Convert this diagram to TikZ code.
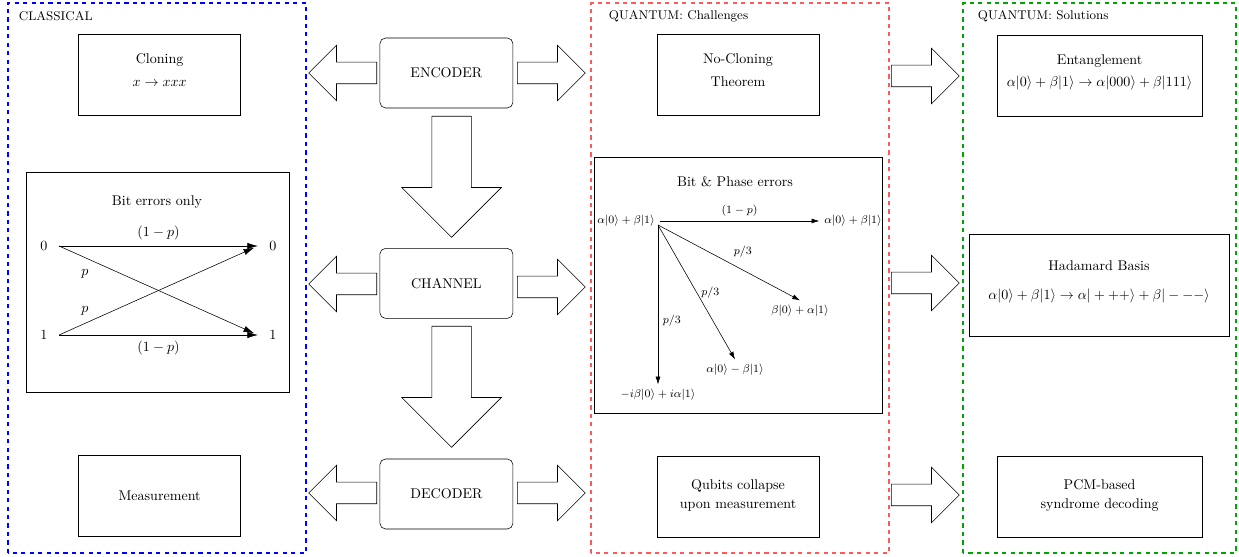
\documentclass[tikz,border=0pt]{standalone}
\usepackage{tikz}
\usepackage{xcolor}
\usetikzlibrary{arrows,arrows.meta,shapes,shapes.arrows,positioning}
\colorlet{framecolor1}{blue}
\colorlet{framecolor2}{red!65}
\colorlet{framecolor3}{green!65!black}

\begin{document}
\begin{tikzpicture}[
    frame/.style={dashed, line width=0.8pt},
    infobox/.style={draw, align=center, minimum width=4.05cm, minimum height=2.025cm},
    twoline/.style={execute at end node={\rule[-#1]{0pt}{0pt}}},
    twoline/.default=7pt,
    stagebox/.style={draw, rounded corners=4pt, minimum width=3.325cm, minimum height=1.75cm},
    sidearrow/.style={draw, single arrow, anchor=tail, single arrow head extend=0.425cm, minimum width=1.375cm, minimum height=1.7cm, inner xsep=0pt, inner ysep=0.2625cm},
    downarrow/.style={draw, single arrow, anchor=tail, shape border rotate=270, single arrow head extend=0.75cm, minimum width=2.475cm, minimum height=3.025cm, inner xsep=0.4875cm, inner ysep=0pt},
    bitlabel/.style={inner xsep=8pt},
    bigtip/.style={-{Latex[length=7.5pt, width=4.5pt]}},
    smalltip/.style={-{Latex[length=5.5pt, width=3.5pt]}},
    prob/.style={font=\footnotesize}
  ]
  % Fix the size of the page
  \useasboundingbox (0,0) rectangle (30.975,13.925);

  % Dashed group frames
  \draw[frame, framecolor1] (0.2,0.1) rectangle (7.65,13.85);
  \draw[frame, framecolor2] (14.775,0.1) rectangle (22.225,13.85);
  \draw[frame, framecolor3] (24.075,0.1) rectangle (30.9,13.85);

  % Frame titles
  \node[anchor=west, font=\small] (classtitle) at (0.35,13.525) {CLASSICAL};
  \node[anchor=west, font=\small] (challtitle) at (15.1,13.525) {QUANTUM: Challenges};
  \node[anchor=west, font=\small] (soltitle) at (24.325,13.525) {QUANTUM: Solutions};

  % Classical column
  \node[infobox, twoline] (cloning) at (3.99,12.05) {Cloning\\[5pt] $x \rightarrow xxx$};
  \node[draw, minimum width=6.575cm, minimum height=5.5cm] (biterr) at (3.94,6.875) {};
  \node (biterrtitle) at (3.925,8.875) {Bit errors only};
  \node[infobox] (measure) at (3.99,1.525) {Measurement};

  % Binary symmetric channel
  \node[bitlabel] (in0) at (1.1,7.775) {0};
  \node[bitlabel] (in1) at (1.1,5.55) {1};
  \node[bitlabel] (out0) at (6.825,7.775) {0};
  \node[bitlabel] (out1) at (6.825,5.55) {1};
  \draw[bigtip] (in0.east) -- node[above=1pt] {$(1-p)$} (out0.west);
  \draw[bigtip] (in1.east) -- node[below=1pt] {$(1-p)$} (out1.west);
  \draw[bigtip, shorten >=3pt] (in0.east) -- node[pos=0.13, below=5pt] {$p$} (out1.west);
  \draw[bigtip, shorten >=3pt] (in1.east) -- node[pos=0.13, above=2pt] {$p$} (out0.west);

  % Coding stages
  \node[stagebox] (encoder) at (11.16,12.1) {ENCODER};
  \node[stagebox] (channel) at (11.16,6.84) {CHANNEL};
  \node[stagebox] (decoder) at (11.16,1.575) {DECODER};

  % Block arrows between the stages
  \node[downarrow] (enc2chan) at (11.29,11.025) {};
  \node[downarrow] (chan2dec) at (11.29,5.775) {};

  % Block arrows out to the sides
  \node[sidearrow, shape border rotate=180] (encleft) at (9.425,12.1) {};
  \node[sidearrow, shape border rotate=180] (chanleft) at (9.425,6.825) {};
  \node[sidearrow, shape border rotate=180] (decleft) at (9.425,1.6) {};
  \node[sidearrow] (encright) at (12.925,12.1) {};
  \node[sidearrow] (chanright) at (12.925,6.75) {};
  \node[sidearrow] (decright) at (12.925,1.6) {};

  % Quantum challenges column
  \node[infobox, twoline] (nocloning) at (18.45,12.05) {No-Cloning\\[5pt] Theorem};
  \node[draw, minimum width=7.2cm, minimum height=6.4cm] (bitphase) at (18.45,6.8) {};
  \node (bitphasetitle) at (18.375,9.375) {Bit \& Phase errors};
  \node[infobox, twoline=3.5pt] (collapse) at (18.45,1.51) {Qubits collapse\\[2pt] upon measurement};

  % Depolarizing channel
  \node[prob] (src) at (15.65,8.4) {$\alpha|0\rangle+\beta|1\rangle$};
  \node[prob] (keep) at (21.325,8.4) {$\alpha|0\rangle+\beta|1\rangle$};
  \node[prob] (flip) at (20.0,6.15) {$\beta|0\rangle+\alpha|1\rangle$};
  \node[prob] (phase) at (18.375,4.675) {$\alpha|0\rangle-\beta|1\rangle$};
  \node[prob] (both) at (16.45,4.05) {$-i\beta|0\rangle+i\alpha|1\rangle$};
  \coordinate (fan) at (16.45,8.3);
  \draw[smalltip] (src.east) -- node[prob, above] {$(1-p)$} (keep.west);
  \draw[smalltip] (fan) -- node[prob, above right] {$p/3$} (flip.north);
  \draw[smalltip] (fan) -- node[prob, right] {$p/3$} (phase.north);
  \draw[smalltip] (fan) -- node[prob, pos=0.6, right] {$p/3$} (both.north);

  % Arrows into the solutions
  \node[sidearrow] (sol1) at (22.275,12.025) {};
  \node[sidearrow] (sol2) at (22.275,6.85) {};
  \node[sidearrow] (sol3) at (22.275,1.55) {};

  % Quantum solutions column
  \node[infobox, twoline, minimum width=5.125cm] (entangle) at (27.49,12.04) {Entanglement\\[4pt] $\alpha|0\rangle+\beta|1\rangle \rightarrow \alpha|000\rangle+\beta|111\rangle$};
  \node[draw, twoline, align=center, minimum width=6.5cm, minimum height=2.55cm] (hadamard) at (27.475,6.8) {Hadamard Basis\\[8pt] $\alpha|0\rangle+\beta|1\rangle \rightarrow \alpha|+++\rangle+\beta|---\rangle$};
  \node[infobox, twoline=3.5pt, minimum width=5.125cm] (pcm) at (27.49,1.51) {PCM-based\\[2pt] syndrome decoding};

\end{tikzpicture}
\end{document}
